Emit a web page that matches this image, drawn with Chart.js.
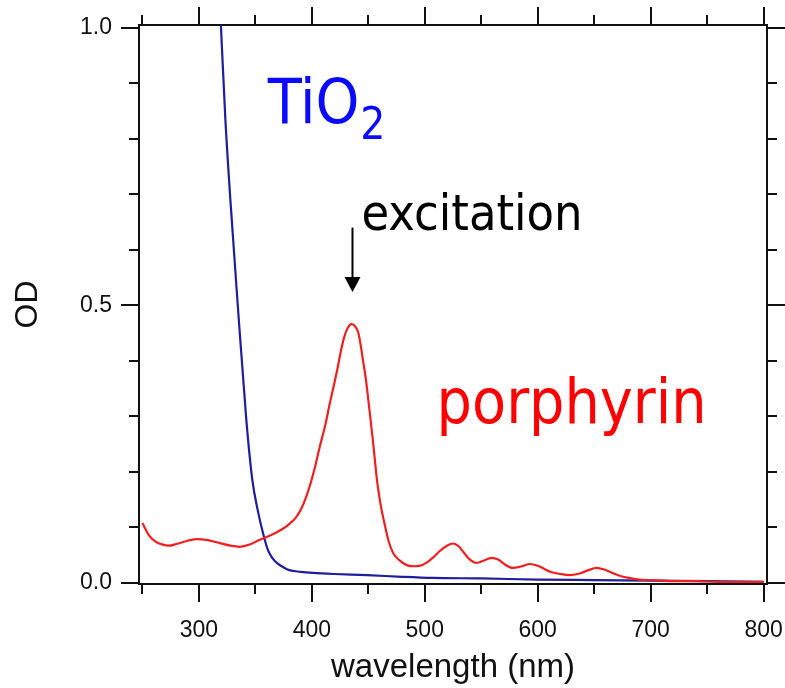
<!DOCTYPE html>
<html>
<head>
<meta charset="utf-8">
<script src="https://cdn.jsdelivr.net/npm/chart.js@4/dist/chart.umd.min.js"></script>
<style>
  html, body { margin: 0; padding: 0; background: #fff; }
  #wrap { width: 785px; height: 688px; }
</style>
</head>
<body>
<div id="wrap"><canvas id="spectrumChart" width="785" height="688"></canvas></div>
<script>
// porphyrin absorption (wavelength nm, OD)
const porphyrinNm = [250, 256, 262, 268, 273, 280, 290, 299, 308, 318, 328, 336, 345, 352, 358, 366, 374, 380, 386, 391,
    395, 399, 403, 407, 412, 416, 420, 423, 426, 429, 432, 435, 438, 441, 443, 445, 448, 450, 452, 454, 456,
    458, 461, 465, 468, 472, 478, 484, 490, 496, 502, 507, 513, 519, 525, 530, 534, 540, 546, 552, 559,
    565, 571, 578, 586, 593, 600, 606, 611, 620, 628, 637, 645, 652, 659, 666, 674, 681, 690, 699, 710,
    720, 740, 760, 780, 800];
const porphyrinOD = [0.108, 0.085, 0.074, 0.069, 0.067, 0.070, 0.076, 0.079, 0.077, 0.072, 0.067, 0.065, 0.069, 0.076, 0.081, 0.088, 0.097, 0.106, 0.118, 0.135,
    0.155, 0.180, 0.210, 0.245, 0.285, 0.324, 0.360, 0.389, 0.420, 0.445, 0.460, 0.466, 0.463, 0.452, 0.432, 0.405, 0.365, 0.330, 0.294, 0.258, 0.218,
    0.180, 0.140, 0.101, 0.075, 0.054, 0.040, 0.032, 0.030, 0.031, 0.037, 0.045, 0.057, 0.066, 0.071, 0.066, 0.056, 0.042, 0.036, 0.040, 0.045,
    0.042, 0.033, 0.027, 0.030, 0.034, 0.031, 0.025, 0.020, 0.016, 0.014, 0.017, 0.023, 0.027, 0.024, 0.018, 0.012, 0.009, 0.006, 0.005, 0.004,
    0.003, 0.003, 0.002, 0.002, 0.002];

// TiO2 absorption
const tio2Nm = [319.5, 323.5, 327.9, 334.1, 342, 347.3, 352, 357, 361, 365, 369, 375, 380, 390, 401, 420, 449,
    480, 507, 550, 600, 650, 700, 750, 800];
const tio2OD = [1.005, 0.834, 0.690, 0.510, 0.294, 0.186, 0.132, 0.088, 0.060, 0.045, 0.036, 0.028, 0.023, 0.020, 0.018, 0.016, 0.014,
    0.011, 0.009, 0.008, 0.006, 0.005, 0.004, 0.003, 0.002];

const xMajorTicks = [300, 400, 500, 600, 700, 800];
const xMinorTicks = [250, 350, 450, 550, 650, 750];
const yMajorTicks = [0, 0.5, 1.0];
const yMinorTicks = [0.1, 0.2, 0.3, 0.4, 0.6, 0.7, 0.8, 0.9];

const allX = xMinorTicks.concat(xMajorTicks).sort((a, b) => a - b);
const allY = yMinorTicks.concat(yMajorTicks).sort((a, b) => a - b);

function toPoints(xs, ys) {
    return xs.map((x, i) => ({ x: x, y: ys[i] }));
}

const axisColor = "#111";
const tickFont = { family: "'Liberation Sans', Arial, sans-serif", size: 23 };
const noteFont = "'DejaVu Sans Condensed', 'DejaVu Sans', sans-serif";

// tick marks drawn outside the frame, long for major and short for minor
const frameTicks = {
    id: "frameTicks",
    afterDraw(chart) {
        const ctx = chart.ctx;
        const a = chart.chartArea;
        ctx.save();
        ctx.strokeStyle = axisColor;
        ctx.lineWidth = 2;
        const sx = chart.scales.x, sy = chart.scales.y;
        allX.forEach(v => {
            const px = Math.round(sx.getPixelForValue(v));
            const len = xMajorTicks.includes(v) ? 18 : 10;
            ctx.beginPath();
            ctx.moveTo(px, a.bottom); ctx.lineTo(px, a.bottom + len);
            ctx.moveTo(px, a.top); ctx.lineTo(px, a.top - len);
            ctx.stroke();
        });
        allY.forEach(v => {
            const py = Math.round(sy.getPixelForValue(v));
            const len = yMajorTicks.includes(v) ? 18 : 10;
            ctx.beginPath();
            ctx.moveTo(a.left, py); ctx.lineTo(a.left - len, py);
            ctx.moveTo(a.right, py); ctx.lineTo(a.right + len, py);
            ctx.stroke();
        });
        ctx.restore();
    }
};

// text labels and the excitation arrow
const notes = {
    id: "notes",
    afterDraw(chart) {
        const ctx = chart.ctx;
        const sx = chart.scales.x, sy = chart.scales.y;
        ctx.save();
        ctx.textBaseline = "alphabetic";
        ctx.textAlign = "left";

        // TiO2
        let x = sx.getPixelForValue(361), y = sy.getPixelForValue(0.829);
        ctx.fillStyle = "#0a0aff";
        ctx.font = "62px " + noteFont;
        ctx.fillText("TiO", x, y);
        const w = ctx.measureText("TiO").width;
        ctx.font = "44px " + noteFont;
        ctx.fillText("2", x + w + 1, y + 16);

        // porphyrin
        ctx.fillStyle = "#ff0000";
        ctx.font = "62px " + noteFont;
        ctx.fillText("porphyrin", sx.getPixelForValue(510.5), sy.getPixelForValue(0.288));

        // excitation
        ctx.fillStyle = "#000";
        ctx.font = "50px " + noteFont;
        ctx.fillText("excitation", sx.getPixelForValue(444), sy.getPixelForValue(0.636));

        // arrow
        const ax = Math.round(sx.getPixelForValue(435.4)) + 0.5;
        const top = sy.getPixelForValue(0.64), tip = sy.getPixelForValue(0.524);
        ctx.strokeStyle = "#000";
        ctx.lineWidth = 2;
        ctx.beginPath();
        ctx.moveTo(ax, top); ctx.lineTo(ax, tip - 12);
        ctx.stroke();
        ctx.beginPath();
        ctx.moveTo(ax - 8, tip - 15); ctx.lineTo(ax + 8, tip - 15); ctx.lineTo(ax, tip);
        ctx.closePath();
        ctx.fill();
        ctx.restore();
    }
};

const xLimits = { min: 247, max: 803 };
const yLimits = { min: -0.002, max: 1.005 };

new Chart(document.getElementById("spectrumChart"), {
    type: "line",
    data: {
        datasets: [{
            label: "porphyrin",
            data: toPoints(porphyrinNm, porphyrinOD),
            borderColor: "#ee2020",
            borderWidth: 2.2,
            pointRadius: 0,
            cubicInterpolationMode: "monotone",
            fill: false
        }, {
            label: "TiO2",
            data: toPoints(tio2Nm, tio2OD),
            borderColor: "#1e1e9e",
            borderWidth: 2.2,
            pointRadius: 0,
            cubicInterpolationMode: "monotone",
            fill: false
        }]
    },
    options: {
        responsive: false,
        animation: false,
        devicePixelRatio: 1,
        layout: { padding: 0 },
        plugins: { legend: { display: false }, tooltip: { enabled: false } },
        scales: {
            x: {
                type: "linear", position: "bottom", ...xLimits,
                afterBuildTicks: s => { s.ticks = allX.map(v => ({ value: v })); },
                afterFit: s => { s.height = 104; s.paddingLeft = 0; s.paddingRight = 0; },
                grid: { drawOnChartArea: false, drawTicks: true, tickLength: 18, tickColor: "rgba(0,0,0,0)" },
                border: { display: true, color: axisColor, width: 2 },
                ticks: {
                    autoSkip: false, maxRotation: 0, padding: 15, color: "#111", font: tickFont,
                    callback: v => xMajorTicks.includes(v) ? String(v) : ""
                },
                title: {
                    display: true, text: "wavelength (nm)", color: "#111",
                    font: { family: "'Liberation Sans', Arial, sans-serif", size: 33 },
                    padding: { top: 0, bottom: 0 }
                }
            },
            x2: {
                type: "linear", position: "top", ...xLimits,
                afterBuildTicks: s => { s.ticks = allX.map(v => ({ value: v })); },
                afterFit: s => { s.height = 25; s.paddingLeft = 0; s.paddingRight = 0; },
                grid: { display: false },
                border: { display: true, color: axisColor, width: 2 },
                ticks: { display: false }
            },
            y: {
                type: "linear", position: "left", ...yLimits,
                afterBuildTicks: s => { s.ticks = allY.map(v => ({ value: v })); },
                afterFit: s => { s.width = 139; s.paddingTop = 0; s.paddingBottom = 0; },
                grid: { drawOnChartArea: false, drawTicks: true, tickLength: 18, tickColor: "rgba(0,0,0,0)" },
                border: { display: true, color: axisColor, width: 2 },
                ticks: {
                    autoSkip: false, padding: 9, color: "#111", font: tickFont,
                    callback: v => yMajorTicks.some(t => Math.abs(t - v) < 1e-9) ? v.toFixed(1) : ""
                },
                title: {
                    display: true, text: "OD", color: "#111",
                    font: { family: "'Liberation Sans', Arial, sans-serif", size: 32 },
                    padding: { top: 9, bottom: 0 }
                }
            },
            y2: {
                type: "linear", position: "right", ...yLimits,
                afterBuildTicks: s => { s.ticks = allY.map(v => ({ value: v })); },
                afterFit: s => { s.width = 18; s.paddingTop = 0; s.paddingBottom = 0; },
                grid: { display: false },
                border: { display: true, color: axisColor, width: 2 },
                ticks: { display: false }
            }
        }
    },
    plugins: [frameTicks, notes]
});
</script>
</body>
</html>
